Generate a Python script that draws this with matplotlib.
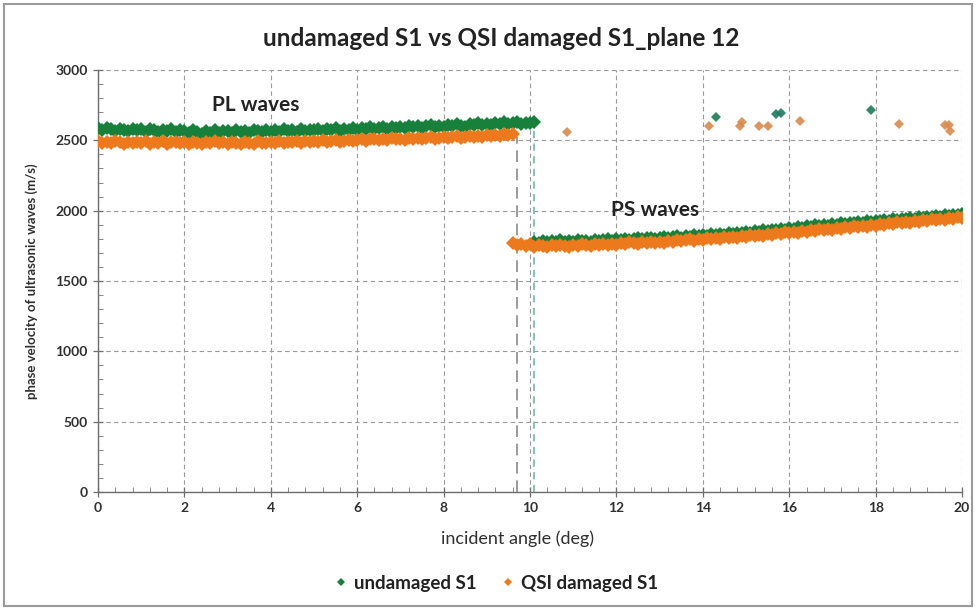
import matplotlib
matplotlib.use("Agg")
import matplotlib.pyplot as plt
import numpy as np
from matplotlib.patches import Rectangle

plt.rcParams["font.family"] = ["Lato", "DejaVu Sans"]

GREEN = "#17813c"
ORANGE = "#ec7a1c"

# undamaged S1, PL waves: incident angle 0.0 .. 10.1 deg, step 0.1
green_pl_angle = np.round(np.arange(0.0, 10.15, 0.1), 2)
green_pl = [
    2585, 2572, 2590, 2578, 2568, 2583, 2575, 2566, 2580, 2571,
    2578, 2562, 2583, 2570, 2560, 2575, 2566, 2579, 2558, 2570,
    2565, 2552, 2572, 2560, 2548, 2566, 2555, 2570, 2551, 2563,
    2568, 2555, 2574, 2560, 2569, 2552, 2571, 2563, 2558, 2575,
    2562, 2572, 2558, 2577, 2566, 2574, 2561, 2579, 2568, 2576,
    2570, 2582, 2566, 2578, 2572, 2585, 2569, 2581, 2576, 2587,
    2574, 2588, 2579, 2592, 2581, 2586, 2596, 2582, 2593, 2588,
    2598, 2585, 2601, 2592, 2604, 2590, 2599, 2607, 2594, 2603,
    2597, 2610, 2601, 2614, 2605, 2598, 2616, 2607, 2620, 2609,
    2618, 2606, 2624, 2613, 2628, 2617, 2622, 2630, 2615, 2626,
    2620, 2628,
]

# undamaged S1, PS waves: 10.1 .. 20.0 deg
green_ps_angle = np.round(np.arange(10.1, 20.05, 0.1), 2)
green_ps = [
    1778, 1772, 1785, 1776, 1781, 1774, 1788, 1779, 1784,
    1777, 1790, 1782, 1786, 1779, 1793, 1785, 1790, 1796, 1787,
    1795, 1788, 1801, 1793, 1798, 1806, 1797, 1803, 1809, 1800,
    1807, 1814, 1804, 1812, 1818, 1809, 1821, 1815, 1824, 1817,
    1826, 1820, 1832, 1827, 1836, 1829, 1840, 1834, 1844, 1838,
    1848, 1843, 1855, 1850, 1861, 1855, 1866, 1860, 1872, 1866,
    1878, 1872, 1884, 1878, 1890, 1884, 1895, 1889, 1900, 1894,
    1904, 1898, 1910, 1904, 1915, 1909, 1920, 1914, 1925, 1919,
    1929, 1923, 1934, 1928, 1939, 1933, 1944, 1938, 1949, 1943,
    1953, 1947, 1958, 1952, 1963, 1957, 1968, 1962, 1972, 1966,
    1975,
]

# QSI damaged S1, PL waves: 0.0 .. 9.6 deg
orange_pl_angle = np.round(np.arange(0.0, 9.65, 0.1), 2)
orange_pl = [
    2495, 2482, 2490, 2478, 2493, 2485, 2476, 2491, 2483, 2488,
    2480, 2492, 2477, 2487, 2481, 2494, 2475, 2486, 2490, 2479,
    2488, 2476, 2491, 2482, 2473, 2487, 2480, 2492, 2478, 2485,
    2476, 2489, 2481, 2474, 2490, 2483, 2477, 2492, 2484, 2479,
    2488, 2480, 2494, 2483, 2491, 2486, 2497, 2482, 2493, 2488,
    2496, 2485, 2499, 2490, 2494, 2503, 2489, 2498, 2505, 2493,
    2501, 2508, 2495, 2506, 2511, 2499, 2509, 2503, 2514, 2506,
    2512, 2504, 2517, 2509, 2520, 2511, 2516, 2523, 2510, 2519,
    2525, 2514, 2522, 2530, 2518, 2527, 2533, 2521, 2531, 2526,
    2535, 2528, 2540, 2532, 2544, 2537, 2546,
]

# QSI damaged S1, PS waves: 9.6 .. 20.0 deg
orange_ps_angle = np.round(np.arange(9.6, 20.05, 0.1), 2)
orange_ps = [
    1768, 1757, 1764, 1752,
    1760, 1745, 1756, 1748, 1742, 1754, 1747, 1758, 1750, 1744,
    1756, 1749, 1761, 1753, 1747, 1762, 1755, 1766, 1758, 1764,
    1759, 1770, 1763, 1774, 1767, 1761, 1776, 1769, 1780, 1772,
    1778, 1771, 1785, 1777, 1790, 1782, 1788, 1795, 1786, 1799,
    1792, 1803, 1796, 1808, 1800, 1811, 1805, 1816, 1809, 1820,
    1813, 1825, 1818, 1830, 1822, 1835, 1828, 1840, 1833, 1845,
    1838, 1851, 1844, 1856, 1849, 1862, 1855, 1867, 1860, 1873,
    1866, 1878, 1871, 1884, 1877, 1889, 1882, 1894, 1887, 1900,
    1893, 1905, 1898, 1911, 1904, 1916, 1909, 1921, 1914, 1927,
    1920, 1932, 1925, 1938, 1930, 1943, 1936, 1948, 1941, 1952,
    1947,
]

# scattered PL points after the cut-off
green_out_angle = [14.3, 15.7, 15.8, 17.9]
green_out = [2665, 2685, 2695, 2712]
orange_out_angle = [10.85, 14.15, 14.85, 14.9, 15.3, 15.5, 16.25, 18.55, 19.6, 19.7, 19.72]
orange_out = [2560, 2605, 2605, 2628, 2605, 2605, 2640, 2615, 2608, 2608, 2565]

# critical angles
green_cut, green_cut_top = 10.1, 2625
orange_cut, orange_cut_top = 9.7, 2525

fig = plt.figure(figsize=(9.76, 6.08), dpi=100)
ax = fig.add_axes([0.1004, 0.1908, 0.8853, 0.6941])

ms = 7
ax.plot(green_pl_angle, green_pl, "D", color=GREEN, ms=ms, mew=0, zorder=3)
ax.plot(green_ps_angle, green_ps, "D", color=GREEN, ms=ms, mew=0, zorder=3)
ax.plot(orange_pl_angle, orange_pl, "D", color=ORANGE, ms=ms, mew=0, zorder=4)
ax.plot(orange_ps_angle, orange_ps, "D", color=ORANGE, ms=ms, mew=0, zorder=4)
ax.plot(green_out_angle, green_out, "D", color="#1f7a5c", ms=5.5, mew=0, alpha=0.9, zorder=3)
ax.plot(orange_out_angle, orange_out, "D", color="#d98a4e", ms=5.5, mew=0, alpha=0.9, zorder=3)

ax.plot([orange_cut, orange_cut], [0, orange_cut_top], color="#8a8a8a", lw=1.2,
        dashes=(7, 4), zorder=2)
ax.plot([green_cut, green_cut], [0, green_cut_top], color="#7fbab4", lw=1.3,
        dashes=(4, 3), zorder=2)

ax.set_xlim(0, 20)
ax.set_ylim(0, 3000)
ax.set_xticks(np.arange(0, 21, 2))
ax.set_yticks(np.arange(0, 3001, 500))
ax.set_xticks(np.arange(0, 20.01, 0.4), minor=True)
ax.set_yticks(np.arange(0, 3001, 100), minor=True)
ax.grid(True, which="major", color="#9a9a9a", ls=(0, (4, 3)), lw=0.8)
ax.set_axisbelow(True)

for s in ("top", "right"):
    ax.spines[s].set_visible(False)
for s in ("left", "bottom"):
    ax.spines[s].set_color("#6e6e6e")
    ax.spines[s].set_linewidth(1.0)

ax.tick_params(which="major", direction="inout", length=7, width=0.9, color="#6e6e6e",
               labelsize=10, pad=4)
ax.tick_params(which="minor", direction="in", length=3.5, width=0.7, color="#8a8a8a")
for lab in ax.get_xticklabels() + ax.get_yticklabels():
    lab.set_fontweight("bold")
    lab.set_color("#303030")

ax.set_xlabel("incident angle (deg)", fontsize=13, color="#303030", labelpad=6)
ax.xaxis.set_label_coords(0.486, -0.09)
ax.set_ylabel("phase velocity of ultrasonic waves (m/s)", fontsize=9.5,
              fontweight="bold", color="#303030", labelpad=12)

ax.text(3.65, 2750, "PL waves", fontsize=15, fontweight="bold", color="#222222",
        ha="center", va="center")
ax.text(12.9, 2005, "PS waves", fontsize=15, fontweight="bold", color="#222222",
        ha="center", va="center")

fig.text(0.514, 0.937, "undamaged S1 vs QSI damaged S1_plane 12", fontsize=17.5,
         fontweight="bold", color="#222222", ha="center", va="center")

h1, = ax.plot([], [], "D", color=GREEN, ms=4, mew=0)
h2, = ax.plot([], [], "D", color=ORANGE, ms=4, mew=0)
leg = fig.legend([h1, h2], ["undamaged S1", "QSI damaged S1"], loc="center",
                 bbox_to_anchor=(0.509, 0.041), ncol=2, frameon=False,
                 prop={"size": 13.5, "weight": "bold"}, handlelength=0.6,
                 handletextpad=0.4, columnspacing=1.4)
for t in leg.get_texts():
    t.set_color("#222222")

fig.patches.append(Rectangle((0.004, 0.004), 0.992, 0.99, transform=fig.transFigure,
                             fill=False, edgecolor="#9a9a9a", lw=1.5))

plt.savefig("out.png", dpi=100)
plt.close()
